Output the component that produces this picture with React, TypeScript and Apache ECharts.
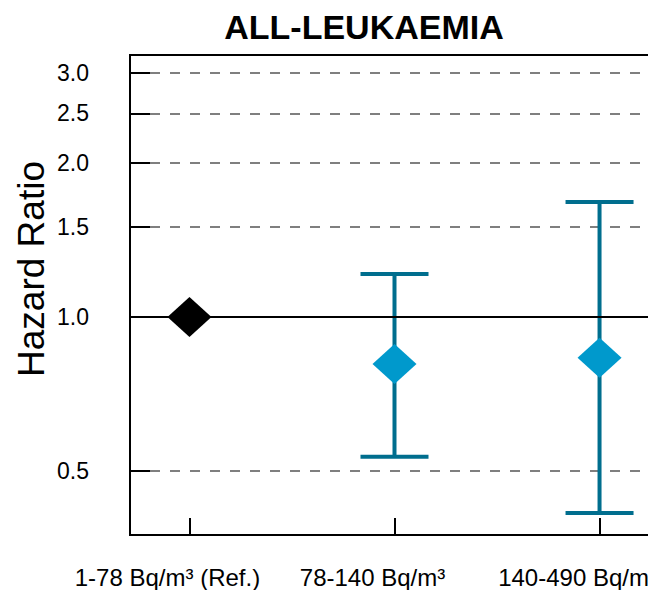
import React, { useEffect, useRef } from "react";
import * as echarts from "echarts";

const chartTitle = "ALL-LEUKAEMIA";
const yAxisName = "Hazard Ratio";
const categories = ["1-78 Bq/m³ (Ref.)", "78-140 Bq/m³", "140-490 Bq/m³"];
const hazardRatio = [1.0, 0.809, 0.832];
const ciLower: (number | null)[] = [null, 0.533, 0.414];
const ciUpper: (number | null)[] = [null, 1.213, 1.678];
const pointColors = ["#000000", "#0099cc", "#0099cc"];
const yTickValues = [0.5, 1.0, 1.5, 2.0, 2.5, 3.0];
const yTickLabels = ["0.5", "1.0", "1.5", "2.0", "2.5", "3.0"];
const referenceValue = 1.0;

const FONT = "Liberation Sans, Arial, sans-serif";

export default function App() {
  const ref = useRef<HTMLDivElement>(null);
  useEffect(() => {
    if (!ref.current) return;
    const chart = echarts.init(ref.current, undefined, { renderer: "svg" });
    const xIdx = categories.map((_, i) => i);
    const errData = xIdx
      .filter((i) => ciLower[i] != null && ciUpper[i] != null)
      .map((i) => [i, ciLower[i], ciUpper[i]]);
    const pointData = xIdx.map((i) => ({
      value: [i, hazardRatio[i]],
      itemStyle: { color: pointColors[i], opacity: 1 },
    }));
    const yMin = 0.375;
    const yMax = 3.25;
    const option: any = {
      animation: false,
      backgroundColor: "#ffffff",
      textStyle: { fontFamily: FONT },
      grid: {
        left: 130,
        top: 55,
        right: -11,
        bottom: 55,
        containLabel: false,
        outerBoundsMode: "none",
        show: true,
        borderColor: "#000000",
        borderWidth: 2,
        backgroundColor: "transparent",
      },
      graphic: [
        {
          type: "text",
          x: 364,
          y: 27,
          style: {
            text: chartTitle,
            fill: "#000",
            font: `bold 34px ${FONT}`,
            align: "center",
            verticalAlign: "middle",
          },
        },
        {
          type: "text",
          x: 31,
          y: 269,
          rotation: Math.PI / 2,
          style: {
            text: yAxisName,
            fill: "#000",
            font: `37px ${FONT}`,
            align: "center",
            verticalAlign: "middle",
          },
        },
      ],
      xAxis: {
        type: "value",
        min: -0.29,
        max: 2.29,
        axisLine: { show: true, lineStyle: { color: "#000", width: 2 } },
        axisTick: {
          show: true,
          inside: true,
          length: 17,
          customValues: xIdx,
          lineStyle: { color: "#000", width: 2 },
        },
        axisLabel: {
          show: true,
          customValues: xIdx,
          margin: 30,
          fontSize: 24,
          color: "#000",
          fontFamily: FONT,
          hideOverlap: false,
          padding: [0, 44, 0, 0],
          formatter: (v: number) => categories[Math.round(v)] ?? "",
        },
        splitLine: { show: false },
      },
      yAxis: [
        {
          type: "log",
          logBase: 10,
          min: yMin,
          max: yMax,
          z: 0,
          axisLine: { show: false },
          axisTick: { show: false, customValues: yTickValues },
          axisLabel: { show: false, customValues: yTickValues },
          splitLine: {
            show: true,
            lineStyle: { color: "#7f7f7f", width: 2, type: [10, 10] },
          },
        },
        {
          type: "log",
          logBase: 10,
          min: yMin,
          max: yMax,
          position: "left",
          z: 5,
          axisLine: { show: true, lineStyle: { color: "#000", width: 2 } },
          axisTick: {
            show: true,
            inside: true,
            length: 20,
            customValues: yTickValues,
            lineStyle: { color: "#000", width: 2 },
          },
          axisLabel: {
            show: true,
            customValues: yTickValues,
            margin: 41,
            fontSize: 23,
            color: "#000",
            fontFamily: FONT,
            formatter: (v: number) => {
              const k = yTickValues.findIndex((t) => Math.abs(t - v) < 1e-6);
              return k >= 0 ? yTickLabels[k] : "";
            },
          },
          splitLine: { show: false },
        },
      ],
      series: [
        {
          type: "scatter",
          data: [],
          yAxisIndex: 0,
          z: 1,
          silent: true,
          markLine: {
            silent: true,
            symbol: "none",
            label: { show: false },
            lineStyle: { color: "#000", width: 2, type: "solid" },
            data: [{ yAxis: referenceValue }],
          },
        },
        {
          type: "custom",
          yAxisIndex: 0,
          z: 3,
          clip: false,
          data: errData,
          renderItem: (params: any, api: any) => {
            const x = api.value(0);
            const lo = api.value(1);
            const hi = api.value(2);
            const pLo = api.coord([x, lo]);
            const pHi = api.coord([x, hi]);
            const half = 34;
            const style = { stroke: "#006e8e", lineWidth: 4, fill: "none" };
            return {
              type: "group",
              children: [
                { type: "line", shape: { x1: pLo[0], y1: pLo[1], x2: pHi[0], y2: pHi[1] }, style },
                { type: "line", shape: { x1: pLo[0] - half, y1: pLo[1], x2: pLo[0] + half, y2: pLo[1] }, style },
                { type: "line", shape: { x1: pHi[0] - half, y1: pHi[1], x2: pHi[0] + half, y2: pHi[1] }, style },
              ],
            };
          },
        },
        {
          type: "scatter",
          yAxisIndex: 0,
          z: 4,
          symbol: "diamond",
          symbolSize: [44, 40],
          itemStyle: { opacity: 1 },
          data: pointData,
        },
      ],
    };
    chart.setOption(option);
    return () => chart.dispose();
  }, []);
  return (
    <div
      ref={ref}
      style={{ position: "absolute", left: 0, top: 0, width: 648, height: 590 }}
    />
  );
}
